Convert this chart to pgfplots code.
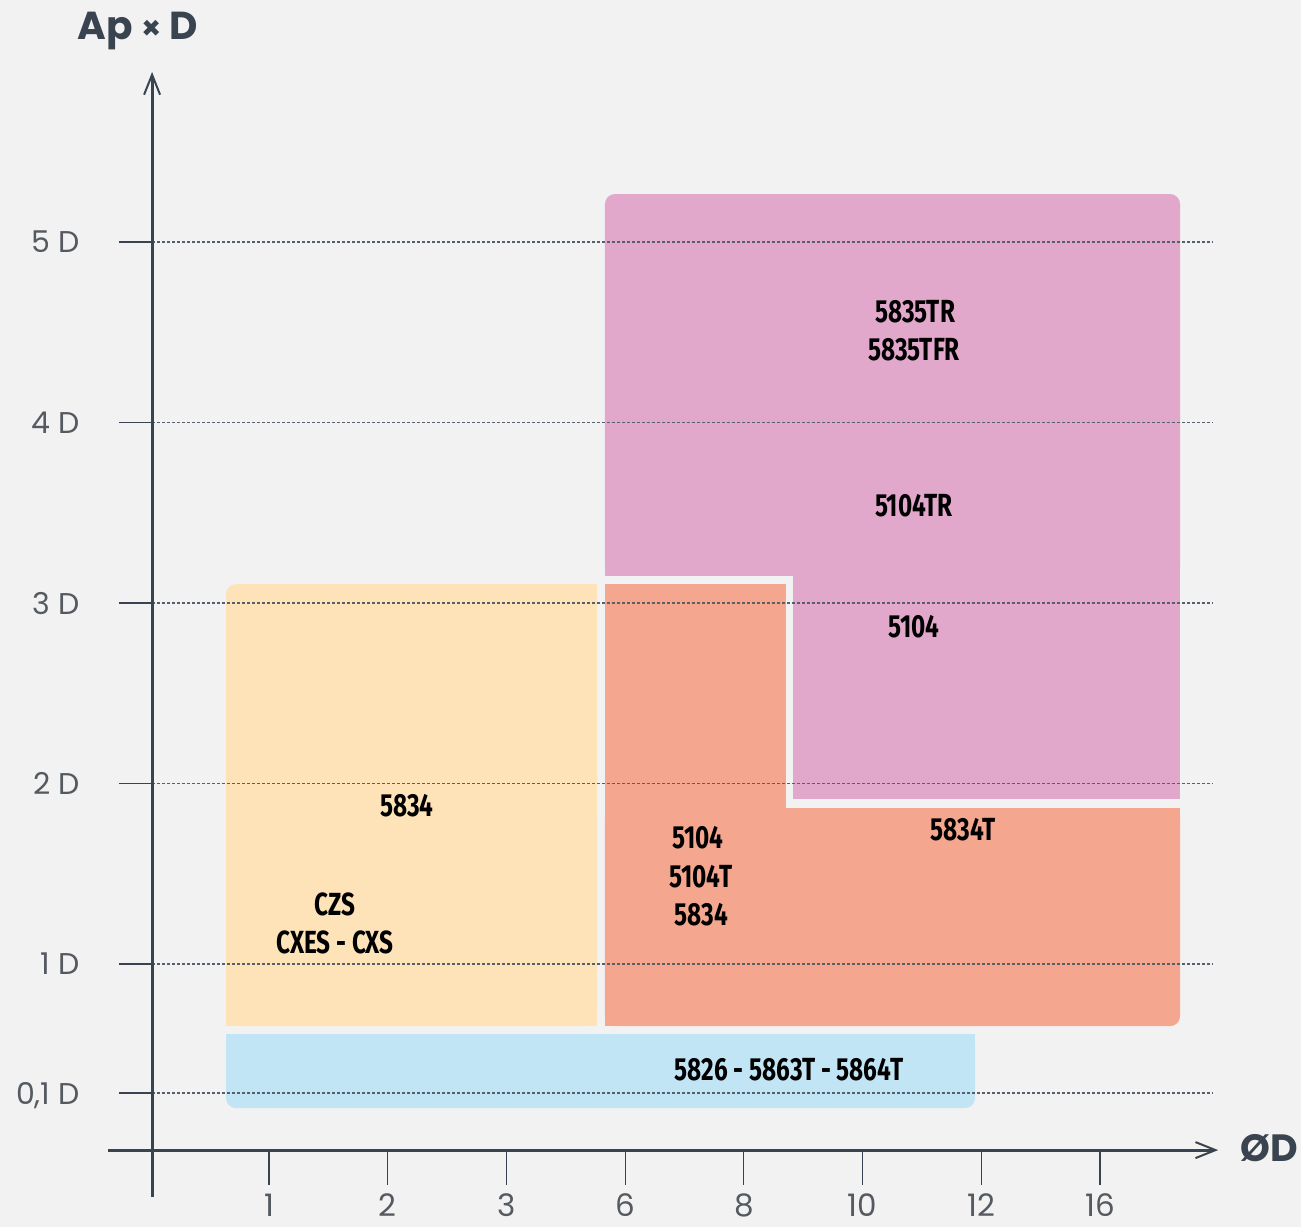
\documentclass[border=0pt]{standalone}
\usepackage{fontspec}
\setmainfont{Poppins}
\newfontfamily\labelfont{Fira Sans}
\usepackage{graphicx}
\usepackage{pgfplots}
\pgfplotsset{compat=1.18}
\usetikzlibrary{arrows.meta}
\definecolor{bg}{HTML}{F2F2F2}
\definecolor{cyellow}{HTML}{FEE3B9}
\definecolor{cpink}{HTML}{E2A8CC}
\definecolor{csalmon}{HTML}{F4A68E}
\definecolor{cblue}{HTML}{C2E5F5}
\definecolor{axisc}{HTML}{3A4450}
\definecolor{gridc}{HTML}{56606B}
\definecolor{tickc}{HTML}{555A60}
\newcommand{\lbl}[1]{\scalebox{0.76}[1]{\fontsize{16}{18}\selectfont\labelfont\bfseries #1}}
\newcommand{\ylab}[1]{\fontsize{15}{16}\selectfont #1}
\newcommand{\xlab}[1]{\fontsize{15.5}{16}\selectfont #1}
\tikzset{ylabs/.style={tickc,anchor=east,inner sep=0,text depth=0pt},
  xlabs/.style={tickc,anchor=base,inner sep=0,text depth=0pt}}
\begin{document}
\begin{tikzpicture}
\begin{axis}[x=59.355pt,y=90.25pt,xmin=-1.266,xmax=9.693,ymin=-0.457,ymax=6.341,hide axis,clip=false]
% background
\addplot[fill=bg,draw=none] coordinates {(-1.266,-0.457) (9.693,-0.457) (9.693,6.341) (-1.266,6.341)} -- cycle;
% blue: rounded bottom corners
\addplot[fill=cblue,draw=none,rounded corners=5pt] coordinates {(3.5,0.202) (6.947,0.202) (6.947,0.612) (0.638,0.612) (0.638,0.202)} -- cycle;
\addplot[fill=cblue,draw=none] coordinates {(0.638,0.40) (6.947,0.40) (6.947,0.612) (0.638,0.612)} -- cycle;
% yellow: rounded top-left corner
\addplot[fill=cyellow,draw=none,rounded corners=5pt] coordinates {(2.0,0.656) (3.763,0.656) (3.763,3.105) (0.638,3.105) (0.638,0.656)} -- cycle;
\addplot[fill=cyellow,draw=none] coordinates {(0.638,0.656) (3.763,0.656) (3.763,2.8) (0.638,2.8)} -- cycle;
\addplot[fill=cyellow,draw=none] coordinates {(1.2,0.656) (3.763,0.656) (3.763,3.105) (1.2,3.105)} -- cycle;
% salmon
\addplot[fill=csalmon,draw=none] coordinates {(3.830,0.656) (5.355,0.656) (5.355,3.105) (3.830,3.105)} -- cycle;
\addplot[fill=csalmon,draw=none,rounded corners=5pt] coordinates {(6.0,0.656) (8.674,0.656) (8.674,1.864) (3.830,1.864) (3.830,0.656)} -- cycle;
\addplot[fill=csalmon,draw=none] coordinates {(3.830,0.656) (8.2,0.656) (8.2,1.864) (3.830,1.864)} -- cycle;
\addplot[fill=csalmon,draw=none] coordinates {(3.830,1.0) (8.674,1.0) (8.674,1.864) (3.830,1.864)} -- cycle;
% pink
\addplot[fill=cpink,draw=none,rounded corners=5pt] coordinates {(6.0,3.150) (8.674,3.150) (8.674,5.266) (3.830,5.266) (3.830,3.150)} -- cycle;
\addplot[fill=cpink,draw=none] coordinates {(3.830,3.150) (8.674,3.150) (8.674,4.9) (3.830,4.9)} -- cycle;
\addplot[fill=cpink,draw=none] coordinates {(5.414,1.914) (8.674,1.914) (8.674,3.3) (5.414,3.3)} -- cycle;
% grid lines (dotted) and y ticks
\pgfplotsinvokeforeach{0.2853,1,2,3,4,5}{
  \addplot[gridc,line width=0.6pt,dash pattern=on 1.5pt off 1pt] coordinates {(0.015,#1) (8.952,#1)};
  \addplot[axisc,line width=0.6pt] coordinates {(-0.264,#1) (0.015,#1)};
}
% x ticks
\pgfplotsinvokeforeach{1,...,8}{
  \addplot[axisc,line width=0.6pt] coordinates {(#1,-0.03) (#1,-0.2244)};
}
% axes
\addplot[axisc,line width=1.5pt,-{Straight Barb[length=10pt,width=8pt,line width=1pt]}] coordinates {(0.015,-0.291) (0.015,5.942)};
\addplot[axisc,line width=1.5pt,-{Straight Barb[length=10pt,width=8pt,line width=1pt]}] coordinates {(-0.356,-0.0305) (8.995,-0.0305)};
% axis titles
\node[axisc,inner sep=0] at (axis cs:-0.1037,6.169) {\fontsize{19.5}{21}\selectfont\bfseries Ap {\fontsize{16}{17}\selectfont×} D};
\node[axisc,inner sep=0] at (axis cs:9.424,-0.019) {\fontsize{19}{20}\selectfont\bfseries ØD};
% y tick labels
\node[ylabs] at (axis cs:-0.592,0.2853) {\ylab{0,1 D}};
\node[ylabs] at (axis cs:-0.592,1) {\ylab{1 D}};
\node[ylabs] at (axis cs:-0.592,2) {\ylab{2 D}};
\node[ylabs] at (axis cs:-0.592,3) {\ylab{3 D}};
\node[ylabs] at (axis cs:-0.592,4) {\ylab{4 D}};
\node[ylabs] at (axis cs:-0.592,5) {\ylab{5 D}};
% x tick labels
\node[xlabs] at (axis cs:1,-0.40) {\xlab{1}};
\node[xlabs] at (axis cs:2,-0.40) {\xlab{2}};
\node[xlabs] at (axis cs:3,-0.40) {\xlab{3}};
\node[xlabs] at (axis cs:4,-0.40) {\xlab{6}};
\node[xlabs] at (axis cs:5,-0.40) {\xlab{8}};
\node[xlabs] at (axis cs:6,-0.40) {\xlab{10}};
\node[xlabs] at (axis cs:7,-0.40) {\xlab{12}};
\node[xlabs] at (axis cs:8,-0.40) {\xlab{16}};
% box labels
\node[inner sep=0] at (axis cs:6.442,4.612) {\lbl{5835TR}};
\node[inner sep=0] at (axis cs:6.433,4.402) {\lbl{5835TFR}};
\node[inner sep=0] at (axis cs:6.433,3.537) {\lbl{5104TR}};
\node[inner sep=0] at (axis cs:6.433,2.867) {\lbl{5104}};
\node[inner sep=0] at (axis cs:2.162,1.875) {\lbl{5834}};
\node[inner sep=0] at (axis cs:1.556,1.332) {\lbl{CZS}};
\node[inner sep=0] at (axis cs:1.556,1.122) {\lbl{CXES - CXS}};
\node[inner sep=0] at (axis cs:4.614,1.698) {\lbl{5104}};
\node[inner sep=0] at (axis cs:4.639,1.482) {\lbl{5104T}};
\node[inner sep=0] at (axis cs:4.639,1.271) {\lbl{5834}};
\node[inner sep=0] at (axis cs:6.846,1.742) {\lbl{5834T}};
\node[inner sep=0] at (axis cs:5.380,0.413) {\lbl{5826 - 5863T - 5864T}};
\end{axis}
\end{tikzpicture}
\end{document}
